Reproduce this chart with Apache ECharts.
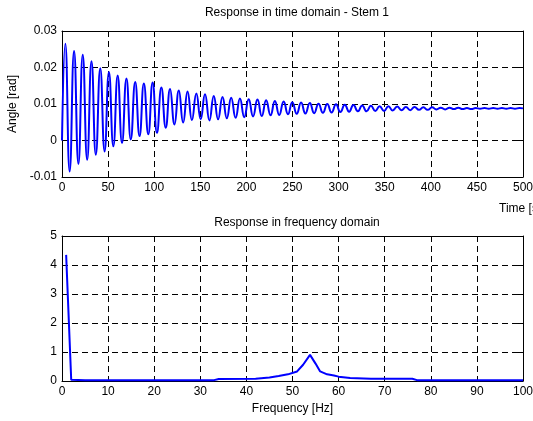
<!DOCTYPE html>
<html>
<head>
<meta charset="utf-8">
<script src="https://cdn.jsdelivr.net/npm/echarts@6/dist/echarts.min.js"></script>
<style>
  html, body { margin: 0; padding: 0; background: #fff; }
  #chart { width: 533px; height: 421px; }
</style>
</head>
<body>
<div id="chart"></div>
<script>
// time response: start, alternating peaks and troughs, end
const startPoint = [0, 0];
const endPoint = [500, 0.0088];

const peakTimes = [3.6, 13.1, 22.5, 32.0, 41.5, 50.9, 60.4, 69.9, 79.4, 88.8,
  98.3, 107.8, 117.2, 126.7, 136.2, 145.7, 155.1, 164.6, 174.1, 183.5,
  193.0, 202.5, 212.0, 221.4, 230.9, 240.4, 249.8, 259.3, 268.8, 278.2,
  287.7, 297.2, 306.7, 316.1, 325.6, 335.1, 344.5, 354.0, 363.5, 373.0,
  382.4, 391.9, 401.4, 410.8, 420.3, 429.8, 439.2, 448.7, 458.2, 467.7,
  477.1, 486.6, 496.1];
const peakValues = [0.0265, 0.0245, 0.0235, 0.0217, 0.0198, 0.0188, 0.0178, 0.0170, 0.0160, 0.0156,
  0.0159, 0.0145, 0.0141, 0.0137, 0.0134, 0.0129, 0.0127, 0.0122, 0.0119, 0.0117,
  0.0115, 0.0113, 0.0112, 0.0110, 0.0108, 0.0107, 0.0105, 0.0104, 0.0103, 0.0101,
  0.0100, 0.0099, 0.0098, 0.0097, 0.0096, 0.0095, 0.0094, 0.0094, 0.0093, 0.0092,
  0.0092, 0.0091, 0.0091, 0.0090, 0.0090, 0.0090, 0.0089, 0.0089, 0.0089, 0.0089,
  0.0089, 0.0089, 0.0089];

const troughTimes = [8.3, 17.8, 27.3, 36.7, 46.2, 55.7, 65.1, 74.6, 84.1, 93.6,
  103.0, 112.5, 122.0, 131.4, 140.9, 150.4, 159.9, 169.3, 178.8, 188.3,
  197.7, 207.2, 216.7, 226.2, 235.6, 245.1, 254.6, 264.0, 273.5, 283.0,
  292.4, 301.9, 311.4, 320.9, 330.3, 339.8, 349.3, 358.7, 368.2, 377.7,
  387.2, 396.6, 406.1, 415.6, 425.0, 434.5, 444.0, 453.4, 462.9, 472.4,
  481.9, 491.3];
const troughValues = [-0.0085, -0.0064, -0.0053, -0.0039, -0.0030, -0.0016, -0.0007, 0.0003, 0.0012, 0.0017,
  0.0021, 0.0035, 0.0044, 0.0049, 0.0056, 0.0058, 0.0055, 0.0058, 0.0061, 0.0062,
  0.0064, 0.0066, 0.0067, 0.0069, 0.0070, 0.0072, 0.0073, 0.0074, 0.0075, 0.0076,
  0.0077, 0.0078, 0.0079, 0.0080, 0.0080, 0.0081, 0.0081, 0.0082, 0.0083, 0.0083,
  0.0084, 0.0084, 0.0085, 0.0085, 0.0086, 0.0086, 0.0086, 0.0087, 0.0087, 0.0087,
  0.0087, 0.0087];

// frequency response
const freqs = [0.9, 2.0, 5, 10, 20, 30, 33, 34, 42, 45, 47, 49, 51, 52.3, 53.8,
  55, 56, 57.5, 59, 60, 62.5, 67, 76, 77, 90, 100];
const amps = [4.35, 0.04, 0.03, 0.03, 0.03, 0.03, 0.03, 0.07, 0.08, 0.12, 0.17, 0.23, 0.33, 0.56, 0.90,
  0.60, 0.33, 0.23, 0.19, 0.15, 0.10, 0.08, 0.08, 0.03, 0.03, 0.03];

const timeData = [startPoint];
for (let i = 0; i < peakTimes.length; i++) {
  timeData.push([peakTimes[i], peakValues[i]]);
  if (i < troughTimes.length) timeData.push([troughTimes[i], troughValues[i]]);
}
timeData.push(endPoint);

const freqData = freqs.map((f, i) => [f, amps[i]]);

const font = 'Liberation Sans, Arial, sans-serif';
const dash = { color: '#000', width: 1, type: [6, 4] };
const frame = { show: true, onZero: false, lineStyle: { color: '#000', width: 1 } };
const tick = { show: true, inside: true, length: 5, lineStyle: { color: '#000' } };

function mainX(grid, max, interval, name) {
  return {
    type: 'value', gridIndex: grid, min: 0, max: max, interval: interval,
    position: 'bottom',
    axisLine: frame, axisTick: tick,
    axisLabel: { color: '#000', fontFamily: font, fontSize: 12, margin: 5 },
    splitLine: { show: true, lineStyle: dash },
    name: name, nameLocation: 'middle', nameGap: 22,
    nameTextStyle: { color: '#000', fontFamily: font, fontSize: 12 }
  };
}
function mirrorX(grid, max, interval) {
  return {
    type: 'value', gridIndex: grid, min: 0, max: max, interval: interval,
    position: 'top', axisLine: frame, axisTick: tick,
    axisLabel: { show: false }, splitLine: { show: false }
  };
}
function mainY(grid, min, max, interval, name) {
  return {
    type: 'value', gridIndex: grid, min: min, max: max, interval: interval,
    position: 'left',
    axisLine: frame, axisTick: tick,
    axisLabel: { color: '#000', fontFamily: font, fontSize: 12, margin: 5 },
    splitLine: { show: true, lineStyle: dash },
    name: name, nameLocation: 'middle', nameGap: 37, nameRotate: 90,
    nameTextStyle: { color: '#000', fontFamily: font, fontSize: 12 }
  };
}
function mirrorY(grid, min, max, interval) {
  return {
    type: 'value', gridIndex: grid, min: min, max: max, interval: interval,
    position: 'right', axisLine: frame, axisTick: tick,
    axisLabel: { show: false }, splitLine: { show: false }
  };
}

const chart = echarts.init(document.getElementById('chart'));
chart.setOption({
  animation: false,
  backgroundColor: '#fff',
  title: [
    { text: 'Response in time domain - Stem 1', left: 292, top: 2, textAlign: 'center',
      textStyle: { fontFamily: font, fontSize: 12, fontWeight: 'normal', color: '#000' } },
    { text: 'Time [s]', left: 494, top: 198,
      textStyle: { fontFamily: font, fontSize: 12, fontWeight: 'normal', color: '#000' } },
    { text: 'Response in frequency domain', left: 292, top: 212, textAlign: 'center',
      textStyle: { fontFamily: font, fontSize: 12, fontWeight: 'normal', color: '#000' } }
  ],
  grid: [
    { left: 62, right: 10, top: 31, height: 146, outerBoundsMode: 'none' },
    { left: 62, right: 10, top: 236, height: 145, outerBoundsMode: 'none' }
  ],
  xAxis: [
    mainX(0, 500, 50, ''),
    mirrorX(0, 500, 50),
    mainX(1, 100, 10, 'Frequency [Hz]'),
    mirrorX(1, 100, 10)
  ],
  yAxis: [
    mainY(0, -0.01, 0.03, 0.01, 'Angle [rad]'),
    mirrorY(0, -0.01, 0.03, 0.01),
    mainY(1, 0, 5, 1, ''),
    mirrorY(1, 0, 5, 1)
  ],
  series: [
    {
      type: 'line', xAxisIndex: 0, yAxisIndex: 0, data: timeData,
      smooth: 0.5, showSymbol: false,
      lineStyle: { color: '#0000ff', width: 2 }
    },
    {
      type: 'line', xAxisIndex: 2, yAxisIndex: 2, data: freqData,
      showSymbol: false,
      lineStyle: { color: '#0000ff', width: 2 }
    }
  ]
});
</script>
</body>
</html>
